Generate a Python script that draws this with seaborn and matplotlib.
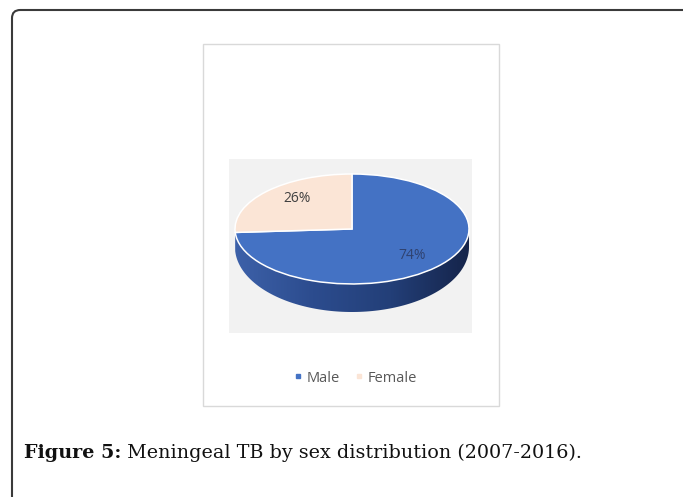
import matplotlib
matplotlib.use("Agg")
import matplotlib.pyplot as plt
import numpy as np
import seaborn as sns
from matplotlib.patches import Rectangle, FancyBboxPatch, Polygon
from matplotlib.lines import Line2D
from matplotlib.colors import LinearSegmentedColormap

# ---- data ----
categories = ["Male", "Female"]
shares = [74, 26]
slice_colors = ["#4472C4", "#FBE5D6"]
caption_bold = "Figure 5:"
caption_rest = " Meningeal TB by sex distribution (2007-2016)."

sns.set_theme(style="white")
plt.rcParams["font.family"] = ["Open Sans", "DejaVu Sans"]

W, H = 683, 497
fig = plt.figure(figsize=(W / 100, H / 100), dpi=100)
fig.patch.set_facecolor("white")


def fx(px):
    return px / W


def fy(py):
    return 1 - py / H


# outer framed panel (only top and left edges fall inside the canvas)
frame = FancyBboxPatch((fx(12), fy(540)), fx(700), 530 / H,
                       boxstyle="round,pad=0,rounding_size=0.012",
                       transform=fig.transFigure, facecolor="none",
                       edgecolor="#3a3a3a", linewidth=1.5, mutation_aspect=W / H,
                       zorder=-2)
fig.patches.append(frame)

# chart area and plot area
fig.patches.append(Rectangle((fx(203), fy(406)), fx(499 - 203), (406 - 44) / H,
                             transform=fig.transFigure, facecolor="white",
                             edgecolor="#d9d9d9", linewidth=1.0, zorder=-2))
fig.patches.append(Rectangle((fx(229), fy(333)), fx(472 - 229), (333 - 159) / H,
                             transform=fig.transFigure, facecolor="#F2F2F2",
                             edgecolor="none", zorder=-1))

# pie axes: top ellipse spans x 235..469, y 174..284; side reaches y 312
ax = fig.add_axes([fx(235), fy(312), fx(469 - 235), (312 - 174) / H])
ax.set_zorder(3)
ax.patch.set_alpha(0)

wedges, texts, autotexts = ax.pie(
    shares, colors=slice_colors, startangle=90, counterclock=False,
    autopct="%d%%", pctdistance=0.7,
    wedgeprops=dict(edgecolor="white", linewidth=1.1, zorder=3),
    textprops=dict(fontsize=10, color="#404040"))
ax.set_aspect("auto")
ax.set_xlim(-1, 1)
ax.set_ylim(-1.51, 1)
ax.axis("off")

for t in autotexts:
    t.set_zorder(5)
autotexts[0].set_color("#2f4270")
x0, y0 = autotexts[1].get_position()
autotexts[1].set_position((x0 + 0.04, y0 + 0.08))

# side wall of the disc (front half), shaded from left to right
side_cmap = LinearSegmentedColormap.from_list(
    "side", ["#3D61A9", "#2C4C8E", "#233F78", "#15244A"])
gradient = np.linspace(0, 1, 256)[None, :]
c_off, b_bot = 0.33, 1.18
for w in wedges:
    t1, t2 = w.theta1 % 360, w.theta2 % 360
    if t2 <= t1:
        t2 += 360
    for base in (0, 360):
        lo = max(t1, 180 + base)
        hi = min(t2, 360 + base)
        if hi <= lo:
            continue
        th = np.radians(np.linspace(lo, hi, 120))
        top = np.column_stack([np.cos(th), np.sin(th)])
        bot = np.column_stack([np.cos(th), -c_off + b_bot * np.sin(th)])[::-1]
        wall = Polygon(np.vstack([top, bot]), closed=True, facecolor="none",
                       edgecolor="none", transform=ax.transData)
        ax.add_patch(wall)
        img = ax.imshow(gradient, cmap=side_cmap, aspect="auto",
                        extent=(-1, 1, -1.6, 0.1), zorder=1,
                        interpolation="bilinear")
        img.set_clip_path(wall)
ax.set_xlim(-1, 1)
ax.set_ylim(-1.51, 1)

# legend
handles = [Line2D([], [], marker="s", linestyle="", markersize=3.5,
                  color=c) for c in slice_colors]
fig.legend(handles, categories, loc="center", bbox_to_anchor=(fx(354), fy(378)),
           ncol=2, frameon=False, fontsize=10.5, handletextpad=0.1,
           handlelength=1.0, columnspacing=0.8, labelcolor="#595959")

# caption
renderer = fig.canvas.get_renderer()
cap_font = ["DejaVu Serif"]
t_bold = fig.text(fx(24), fy(458), caption_bold, fontsize=13.8, fontweight="bold",
                  family=cap_font, color="#111111", va="baseline")
bb = t_bold.get_window_extent(renderer=renderer)
fig.text(bb.x1 / W, fy(458), caption_rest, fontsize=13.8, family=cap_font,
         color="#111111", va="baseline")

fig.savefig("out.png", dpi=100)
